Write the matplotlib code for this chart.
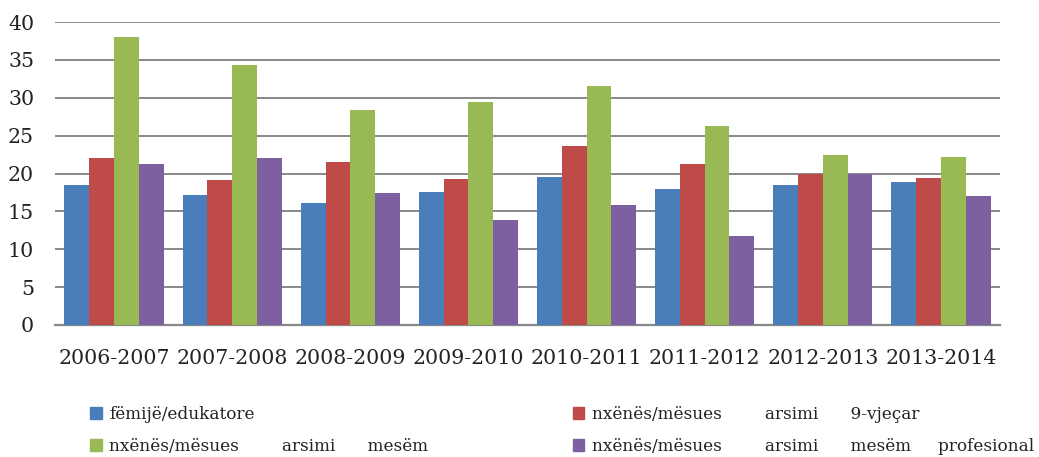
import matplotlib.pyplot as plt
import numpy as np
from matplotlib.patches import Patch

plt.rcParams['font.family'] = ['DejaVu Serif']

years = ['2006-2007', '2007-2008', '2008-2009', '2009-2010',
         '2010-2011', '2011-2012', '2012-2013', '2013-2014']
femije_edukatore = [18.5, 17.1, 16.1, 17.5, 19.5, 17.9, 18.5, 18.9]
nxenes_9vjecar = [22.0, 19.1, 21.5, 19.3, 23.6, 21.2, 20.0, 19.4]
nxenes_mesem = [38.0, 34.3, 28.4, 29.4, 31.5, 26.3, 22.5, 22.2]
nxenes_profesional = [21.3, 22.1, 17.4, 13.9, 15.8, 11.7, 20.0, 17.0]

labels = ['fëmijë/edukatore',
          'nxënës/mësues        arsimi      9-vjeçar',
          'nxënës/mësues        arsimi      mesëm',
          'nxënës/mësues        arsimi      mesëm     profesional']
colors = ['#4A7EBB', '#BE4B48', '#98B954', '#7D60A0']
series = [femije_edukatore, nxenes_9vjecar, nxenes_mesem, nxenes_profesional]

fig = plt.figure(figsize=(10.39, 4.57), dpi=100)
ax = fig.add_axes([55/1039, 1-325/457, 945/1039, 303/457])

x = np.arange(len(years))
w = 0.21
for i, (vals, c) in enumerate(zip(series, colors)):
    ax.bar(x + (i - 1.5)*w, vals, w, color=c, linewidth=0, zorder=3)

ax.set_xlim(-0.5, 7.5)
ax.set_ylim(0, 40)
ax.set_yticks(range(0, 41, 5))
ax.set_xticks(x)
ax.set_xticklabels(years)
ax.yaxis.grid(True, color='#888888', linewidth=1.4, zorder=0)
for s in ['top', 'right', 'left']:
    ax.spines[s].set_visible(False)
ax.spines['bottom'].set_color('#888888')
ax.spines['bottom'].set_linewidth(1.6)
ax.tick_params(length=0, labelsize=14.8, colors='#222222')
ax.tick_params(axis='x', pad=17)
ax.tick_params(axis='y', pad=15)

order = [0, 2, 1, 3]
handles = [Patch(color=colors[k]) for k in order]
fig.legend(handles, [labels[k] for k in order], ncol=2, frameon=False,
           loc='upper left', bbox_to_anchor=(90/1039, 1-406/457),
           fontsize=12.2, handlelength=0.7, handleheight=0.7,
           handletextpad=0.45, columnspacing=8.5, labelspacing=0.9,
           borderaxespad=0, borderpad=0, labelcolor='#222222')

fig.savefig('out.png', dpi=100)
